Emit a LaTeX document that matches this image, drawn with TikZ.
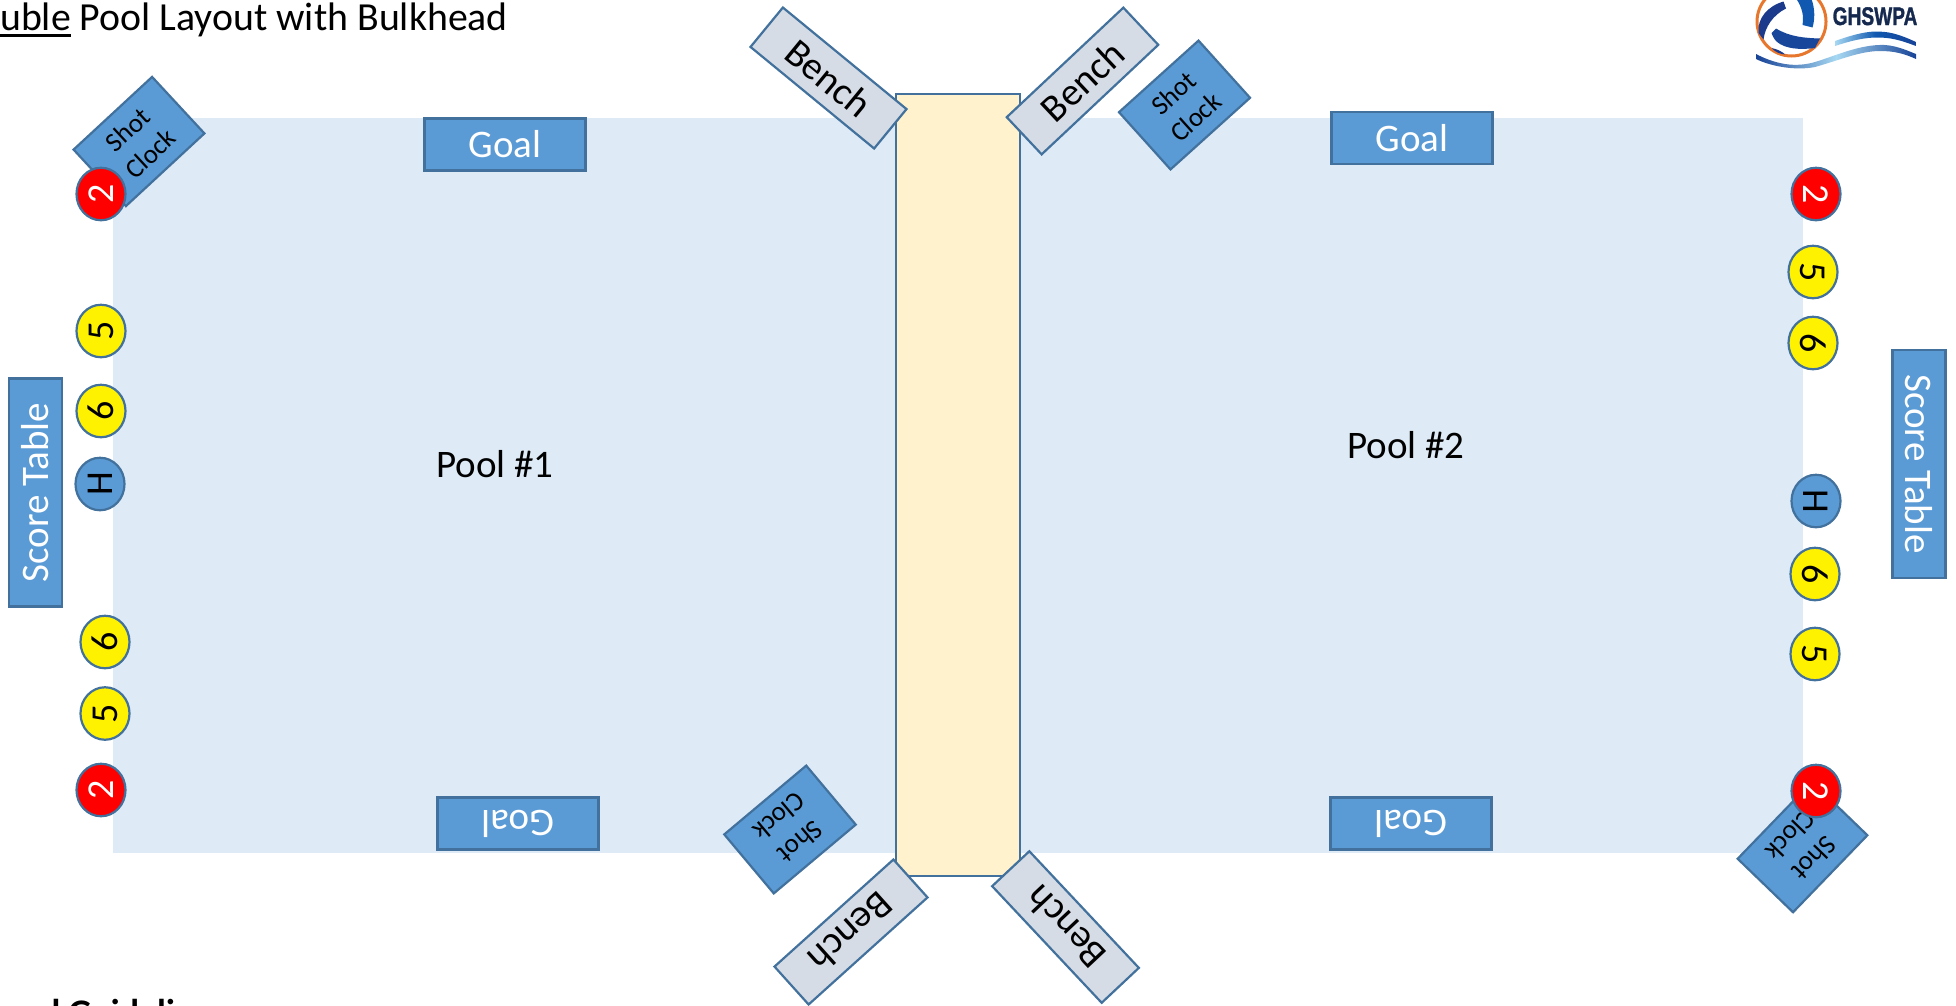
\documentclass[tikz,border=0pt]{standalone}
\usepackage{fontspec}
\setmainfont{Carlito}
\newfontfamily\logofont[BoldFeatures={FakeBold=1.5}]{Liberation Sans}
\definecolor{poolc}{HTML}{DEEAF6}
\definecolor{edgec}{HTML}{41719C}
\definecolor{bluec}{HTML}{5B9BD5}
\definecolor{benchc}{HTML}{D6DCE5}
\definecolor{bulkc}{HTML}{FFF2CC}
\definecolor{logoa}{HTML}{1B3A8C}
\definecolor{logob}{HTML}{1058B0}
\definecolor{logoo}{HTML}{E8772E}
\definecolor{logol}{HTML}{A6D8F2}
\definecolor{logot}{HTML}{15294F}
\tikzset{
  box/.style={draw=edgec,line width=2.2pt,inner sep=0pt,align=center},
  bluebox/.style={box,fill=bluec,text=white,font=\fontsize{39}{42}\selectfont},
  goalbox/.style={bluebox,minimum width=161pt,minimum height=52pt},
  scorebox/.style={bluebox,minimum width=228pt,minimum height=53pt},
  benchbox/.style={box,fill=benchc,text=black,minimum width=160pt,minimum height=51pt,font=\fontsize{39}{42}\selectfont},
  clockbox/.style={box,fill=bluec,text=black,minimum width=107pt,minimum height=77pt,font=\fontsize{27}{33}\selectfont},
  marker/.style={ellipse,box,minimum width=52.5pt,minimum height=49pt,font=\fontsize{38}{40}\selectfont},
  redm/.style={marker,fill=red,text=white},
  yellowm/.style={marker,fill=yellow,text=black},
  bluem/.style={marker,fill=bluec,text=black},
  plain/.style={inner sep=0pt,font=\fontsize{39}{42}\selectfont},
}
\usetikzlibrary{shapes.geometric}
\begin{document}
\begin{tikzpicture}[x=1pt,y=-1pt]
\useasboundingbox (0,0) rectangle (1956,1005);
\clip (0,0) rectangle (1956,1005);
% pool and bulkhead
\fill[poolc] (113,118) rectangle (1803,853);
\node[box,fill=bulkc,minimum width=124pt,minimum height=782pt] (bulkhead) at (958,485) {};
% goals
\node[goalbox] (goalA) at (505,144.5) {Goal};
\node[goalbox] (goalB) at (1412,138) {Goal};
\node[goalbox,rotate=180] (goalC) at (518,823.5) {Goal};
\node[goalbox,rotate=180] (goalD) at (1411,823.5) {Goal};
% score tables
\node[scorebox,rotate=90] (scoreA) at (35.5,492.5) {Score Table};
\node[scorebox,rotate=-90] (scoreB) at (1919,464) {Score Table};
% benches
\node[benchbox,rotate=-39.4] (benchA) at (828.5,78) {Bench};
\node[benchbox,rotate=43.2] (benchB) at (1082.5,81) {Bench};
\node[benchbox,rotate=222] (benchC) at (851,932) {Bench};
\node[benchbox,rotate=133.2] (benchD) at (1065.5,927) {Bench};
% shot clocks
\node[clockbox,rotate=42.8] (clockA) at (139,141.5) {Shot\\Clock};
\node[clockbox,rotate=42] (clockB) at (1184.5,105) {Shot\\Clock};
\node[clockbox,rotate=220] (clockC) at (790,829.5) {Shot\\Clock};
\node[clockbox,rotate=226] (clockD) at (1802.5,847) {Shot\\Clock};
% left markers
\node[redm,rotate=90] (lA) at (101,194) {2};
\node[yellowm,rotate=90] (lB) at (101,331) {5};
\node[yellowm,rotate=90] (lC) at (101,411) {6};
\node[bluem,rotate=90] (lD) at (100,484) {H};
\node[yellowm,rotate=90] (lE) at (105,642) {6};
\node[yellowm,rotate=90] (lF) at (105,713.5) {5};
\node[redm,rotate=90] (lG) at (101,790) {2};
% right markers
\node[redm,rotate=-90] (rA) at (1816,194) {2};
\node[yellowm,rotate=-90] (rB) at (1813,272) {5};
\node[yellowm,rotate=-90] (rC) at (1813,343) {6};
\node[bluem,rotate=-90] (rD) at (1816,501) {H};
\node[yellowm,rotate=-90] (rE) at (1815,574) {6};
\node[yellowm,rotate=-90] (rF) at (1815,654) {5};
\node[redm,rotate=-90] (rG) at (1816,791) {2};
% pool labels
\node[plain] (poolA) at (495,464) {Pool \#1};
\node[plain] (poolB) at (1406,445) {Pool \#2};
% title and footer
\node[inner sep=0pt,anchor=base west,font=\fontsize{39.8}{42}\selectfont] (title) at (0,30) {uble Pool Layout with Bulkhead};
\fill[black] (0,33.5) rectangle (71,36.5);
\node[inner sep=0pt,anchor=base west,font=\fontsize{36}{40}\selectfont\bfseries] (footer) at (41,1024) {d Guidelines};
% logo
\draw[logoo,line width=3pt] (1791.5,21.5) circle (34.5);
\fill[logoa] (1783.5,1.5) -- (1786,8.5) .. controls (1773,15) and (1765,27) .. (1763.5,39.5) -- (1758.5,33) .. controls (1757,18) and (1768,6) .. cycle;
\fill[logob] (1796.5,-1) -- (1811.5,-1) .. controls (1815,9) and (1815,19) .. (1812.5,27.5) -- (1802.5,25) .. controls (1804,15) and (1802,8) .. cycle;
\fill[logoa!60!logob] (1776,28.5) .. controls (1790,37) and (1805,38) .. (1820,38.5) -- (1815,48) .. controls (1800,50) and (1785,49) .. (1776.5,41.5) .. controls (1773,38) and (1772,34) .. (1771.5,33) -- cycle;
\fill[logoa] (1771.5,48) .. controls (1777,49) and (1783,52) .. (1785,54.5) .. controls (1780,54) and (1775,52) .. cycle;
\path[left color=logol,right color=logoa!70!logob,middle color=logob] (1835,41) .. controls (1855,34) and (1870,30) .. (1885,32) .. controls (1895,33) and (1905,37) .. (1916,42) -- (1916,46) .. controls (1905,42) and (1895,38) .. (1880,37.5) .. controls (1865,37) and (1850,41) .. (1835,46) -- cycle;
\path[left color=logoa!70!logob,right color=logoa!70!logob,middle color=logol] (1756,54) .. controls (1775,64) and (1795,68) .. (1815,62) .. controls (1835,56) and (1860,44) .. (1885,45) .. controls (1898,46) and (1908,51) .. (1916,54) -- (1916,59) .. controls (1905,54) and (1895,51) .. (1880,51) .. controls (1860,51) and (1840,60) .. (1815,67) .. controls (1795,71) and (1770,66) .. (1756,59) -- cycle;
\node[inner sep=0pt,anchor=base west,text=logot,font=\logofont\bfseries\fontsize{25.5}{28}\selectfont] (logotext) at (1832.5,25) {\scalebox{.75}[1]{GHSWPA}};
\end{tikzpicture}
\end{document}
